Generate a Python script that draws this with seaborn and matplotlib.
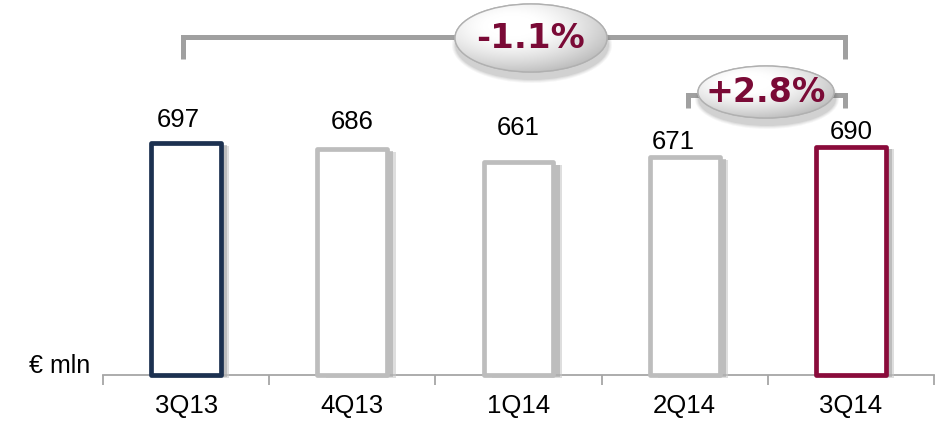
import numpy as np
import pandas as pd
import matplotlib
matplotlib.use("Agg")
import matplotlib.pyplot as plt
import matplotlib.patheffects as pe
from matplotlib.patches import Ellipse
import seaborn as sns

# Quarterly values, € mln
quarters = ["3Q13", "4Q13", "1Q14", "2Q14", "3Q14"]
values = [697, 686, 661, 671, 690]
edge_colors = ["#1C3150", "#BDBDBD", "#BDBDBD", "#BDBDBD", "#8A0B3B"]
value_labels = ["697", "686", "661", "671", "690"]
# change brackets: (from index, to index, label)
changes = [(0, 4, "-1.1%"), (3, 4, "+2.8%")]

sns.set_theme(style="white")
plt.rcParams["font.family"] = ["Liberation Sans", "DejaVu Sans"]

W, H = 936, 422
Y0 = 271  # value axis starts here (truncated axis)
fig = plt.figure(figsize=(W / 100, H / 100), dpi=100)
ax = fig.add_axes([103 / W, (H - 375) / H, 831 / W, 375 / H])

df = pd.DataFrame({"quarter": quarters, "value": values})
sns.barplot(data=df, x="quarter", y="value", ax=ax, color="white",
            width=0.42, saturation=1)

# soft shadow to the lower right of each bar
shadow = [pe.SimplePatchShadow(offset=(6.0, -2.0), shadow_rgbFace="#C8C8C8", alpha=0.6),
          pe.SimplePatchShadow(offset=(4.5, -1.5), shadow_rgbFace="#A8A8A8", alpha=0.6),
          pe.Normal()]
for patch, ec, v in zip(ax.patches, edge_colors, values):
    # bars start at the truncated baseline so the closed outline is visible
    patch.set_y(Y0)
    patch.set_height(v - Y0)
    patch.set_facecolor("white")
    patch.set_edgecolor(ec)
    patch.set_linewidth(3.4)
    patch.set_joinstyle("round")
    patch.set_clip_on(False)
    patch.set_zorder(3)
    patch.set_path_effects(shadow)

ax.set_ylim(Y0, Y0 + 375 / 0.545)
ax.set_xlim(-0.5, len(quarters) - 0.5)

# value labels above each bar (x/y offsets in points)
label_offsets = [(-5.4, 16.5), (0, 19.5), (0, 25), (-8.4, 11), (0, 10.5)]
for i, (v, lab) in enumerate(zip(values, value_labels)):
    dx, dy = label_offsets[i]
    ax.annotate(lab, xy=(i, v), xytext=(dx, dy), textcoords="offset points",
                ha="center", va="center", fontsize=18.5, color="black")

# axis styling
for s in ["left", "top", "right"]:
    ax.spines[s].set_visible(False)
ax.spines["bottom"].set_color("#A6A6A6")
ax.spines["bottom"].set_linewidth(1.3)
ax.spines["bottom"].set_zorder(1)
ax.set_yticks([])
ax.set_xlabel("")
ax.set_ylabel("")
ax.set_xticks(np.arange(-0.5, len(quarters)), minor=True)
ax.tick_params(axis="x", which="minor", length=7, width=1.3, color="#A6A6A6",
               direction="out", bottom=True)
ax.tick_params(axis="x", which="major", length=0, pad=14, labelsize=18.5,
               labelcolor="black")
fig.text(60 / W, (H - 366) / H, "€ mln", ha="center", va="center",
         fontsize=18, color="black")

# overlay in pixel coordinates for brackets and bubbles
ov = fig.add_axes([0, 0, 1, 1], zorder=5)
ov.set_xlim(0, W)
ov.set_ylim(H, 0)
ov.axis("off")
ov.patch.set_alpha(0)


def bar_px(i):
    return 103 + 831 * (i + 0.5) / len(quarters)


def bubble(cx, cy, w, h, text, fs):
    # soft drop shadow
    for k, a in enumerate([0.05, 0.06, 0.08, 0.10]):
        grow = 8 - 2 * k
        ov.add_patch(Ellipse((cx + 1, cy + 7), w + grow, h + grow,
                             facecolor="#555555", edgecolor="none", alpha=a))
    el = Ellipse((cx, cy), w, h, facecolor="white", edgecolor="#B5B5B5", lw=1.0)
    ov.add_patch(el)
    yy, xx = np.mgrid[-1:1:200j, -1:1:200j]
    r = np.sqrt(((xx + 0.25) / 1.1) ** 2 + ((yy + 0.35) / 1.1) ** 2)
    shade = 1 - 0.26 * np.clip(r - 0.3, 0, 1) ** 1.4
    img = ov.imshow(np.dstack([shade] * 3),
                    extent=(cx - w / 2, cx + w / 2, cy + h / 2, cy - h / 2),
                    zorder=2, interpolation="bilinear", aspect="auto")
    img.set_clip_path(el)
    ov.add_patch(Ellipse((cx, cy), w, h, facecolor="none", edgecolor="#B0B0B0",
                         lw=1.0, zorder=3))
    ov.text(cx, cy + 1, text, ha="center", va="center", fontsize=fs,
            fontweight="bold", color="#7A0A36", family="DejaVu Sans", zorder=4)


# per bracket: bar y, end depth, bubble centre, bubble size, font size
brackets = [
    (37, 22, (531, 38), (152, 68), 24.5),
    (95, 13, (766, 92), (136, 52), 24),
]
for (i0, i1, lab), (by, depth, (bcx, bcy), (bw, bh), fs) in zip(changes, brackets):
    x0 = bar_px(i0) + 3 if i0 == 3 else bar_px(i0) - 3
    x1 = bar_px(i1) - 6
    ov.plot([x0, x0, x1, x1], [by + depth, by, by, by + depth], color="#A0A0A0",
            lw=3.6, solid_joinstyle="miter", solid_capstyle="butt", zorder=1)
    bubble(bcx, bcy, bw, bh, lab, fs)

fig.savefig("out.png", dpi=100)
